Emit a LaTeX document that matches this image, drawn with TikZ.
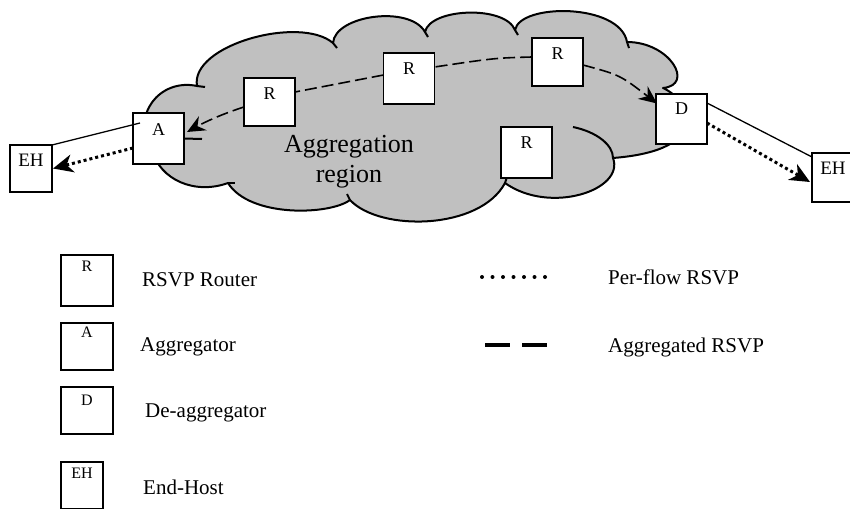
\documentclass[tikz,border=0pt]{standalone}
\usepackage{fontspec}
\setmainfont{Liberation Serif}
\usetikzlibrary{arrows.meta}
\definecolor{cloudgray}{RGB}{192,192,192}
\tikzset{
  box/.style={draw=black, line width=1.3pt, fill=white, minimum width=51pt, minimum height=49pt, inner sep=0pt, outer sep=0pt},
  ehbox/.style={box, minimum width=42pt, minimum height=47pt},
  lbox/.style={box, minimum width=52pt, minimum height=47pt},
  blab/.style={anchor=north, inner sep=0pt, font=\fontsize{18}{21}\selectfont},
  llab/.style={anchor=north, inner sep=0pt, font=\fontsize{16}{19}\selectfont},
  legtext/.style={anchor=base west, inner sep=0pt, font=\fontsize{21}{25}\selectfont},
  cloudline/.style={line width=2pt, line join=round},
  agg/.style={line width=1.6pt, dash pattern=on 12pt off 5pt},
  perflow/.style={line width=3pt, dash pattern=on 3pt off 3pt},
  plain/.style={line width=1.3pt},
  aggtip/.style={-{Stealth[length=18pt,width=16pt,inset=6pt]}},
  pftip/.style={-{Stealth[length=20pt,width=18pt,inset=6pt]}},
}
\begin{document}
\begin{tikzpicture}[x=1pt,y=-1pt]
\clip (0,0) rectangle (850,508);
\fill[white] (0,0) rectangle (850,508);
% cloud
\path[fill=cloudgray, draw=black, cloudline]
  (152,150) .. controls (130,115) and (160,78) .. (197,86)
  .. controls (190,45) and (300,15) .. (333,43)
  .. controls (335,15) and (410,5) .. (425,32)
  .. controls (430,8) and (505,5) .. (515,30)
  .. controls (520,3) and (620,3) .. (627,42)
  .. controls (670,42) and (695,85) .. (663,88)
  .. controls (690,100) and (715,150) .. (613,158)
  .. controls (625,190) and (550,215) .. (505,183)
  .. controls (480,230) and (380,232) .. (350,200)
  .. controls (330,215) and (250,218) .. (228,183)
  .. controls (195,195) and (160,180) .. (152,150) -- cycle;
\draw[cloudline] (573,127) .. controls (597,132) and (613,145) .. (613,158);
\draw[cloudline] (197,86) -- (205,87);
\draw[cloudline] (333,43) -- (337,48);
\draw[cloudline] (425,32) -- (428,37);
\draw[cloudline] (515,30) -- (518,35);
\draw[cloudline] (627,42) -- (629,48);
\draw[cloudline] (505,183) -- (507,177);
\draw[cloudline] (350,200) -- (347,194);
\draw[cloudline] (228,183) -- (235,183);
\node[font=\fontsize{26}{30}\selectfont, align=center] (region) at (349,162) {Aggregation\\region};
% boxes
\node[ehbox, label={[blab, yshift=-9pt, font=\fontsize{19}{22}\selectfont]north:EH}] (EHL) at (31,168.5) {};
\node[box, minimum height=51pt, label={[blab, yshift=-10pt]north:A}] (A) at (158.5,138.5) {};
\node[box, minimum height=48pt, label={[blab, yshift=-10pt]north:R}] (R1) at (269.5,102) {};
\node[box, minimum height=51pt, label={[blab, yshift=-10pt]north:R}] (R2) at (409,78.5) {};
\node[box, minimum height=48pt, label={[blab, yshift=-10pt]north:R}] (R3) at (557.5,62) {};
\node[box, minimum height=51pt, label={[blab, yshift=-10pt]north:R}] (R4) at (526.5,152.5) {};
\node[box, minimum height=50pt, label={[blab, yshift=-9pt]north:D}] (D) at (681.5,119) {};
\node[ehbox, minimum height=49pt, label={[blab, yshift=-9pt, font=\fontsize{19}{22}\selectfont]north:EH}] (EHR) at (833,177.5) {};
% connectors
\draw[plain] (EHL.north east) -- ([xshift=7pt,yshift=15.5pt]A.west);
\draw[perflow, pftip] ([yshift=-9.5pt]A.west) -- ([xshift=1pt]EHL.east);
\draw[agg, aggtip] ([yshift=-5pt]R1.west) .. controls (222,114) and (205,122) .. ([xshift=3pt,yshift=6.5pt]A.east);
\draw[line width=2pt] (A.east) -- ++(18,0.5);
\draw[agg] ([yshift=3.5pt]R2.west) -- ([yshift=10pt]R1.east);
\draw[agg] ([yshift=5pt]R3.west) .. controls (495,58) .. ([yshift=11.5pt]R2.east);
\draw[agg, aggtip] ([yshift=-3pt]R3.east) .. controls (620,75) .. ([xshift=1pt,yshift=-9.5pt]D.north west);
\draw[plain] ([yshift=16pt]D.east) -- ([yshift=-4pt]EHR.north west);
\draw[perflow, pftip] ([yshift=-4pt]D.east) -- ([xshift=-2pt,yshift=-4.5pt]EHR.west);
% legend
\node[lbox, minimum height=51pt, label={[llab, yshift=-6pt]north:R}] (LR) at (87,280.5) {};
\node[legtext] (tR) at (142,286) {RSVP Router};
\node[lbox, label={[llab, yshift=-4pt]north:A}] (LA) at (87,346.5) {};
\node[legtext] (tA) at (140,351) {Aggregator};
\node[lbox, label={[llab, yshift=-8pt]north:D}] (LD) at (87,410.5) {};
\node[legtext] (tD) at (145,417) {De-aggregator};
\node[ehbox, label={[llab, yshift=-6pt]north:EH}] (LEH) at (82,485.5) {};
\node[legtext] (tEH) at (143,494) {End-Host};
\coordinate (pf1) at (482,277);
\coordinate (pf2) at (545.5,277);
\draw[line width=4pt, line cap=round, dash pattern=on 0pt off 10.5pt] (pf1) -- (pf2);
\node[legtext] (tPF) at (608,284) {Per-flow RSVP};
\coordinate (ag1) at (485,345);
\coordinate (ag2) at (547,345);
\draw[line width=3.3pt, dash pattern=on 25pt off 12pt] (ag1) -- (ag2);
\node[legtext] (tAG) at (608,352) {Aggregated RSVP};
\end{tikzpicture}
\end{document}
